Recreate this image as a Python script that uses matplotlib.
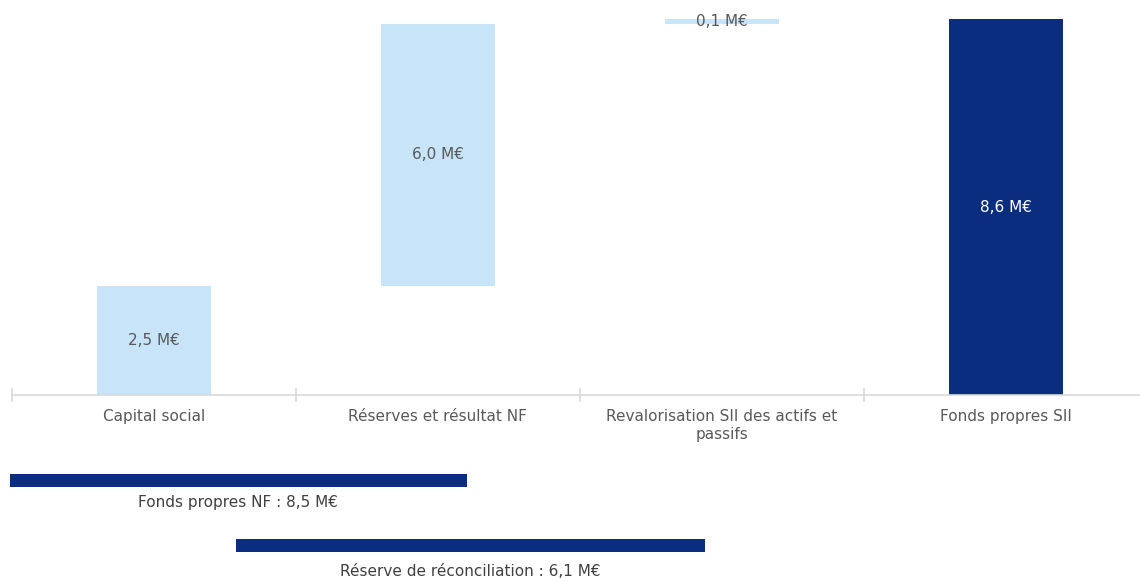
import numpy as np
import matplotlib.pyplot as plt
from matplotlib.ticker import FixedLocator

# waterfall steps (M€)
categories = ['Capital social', 'Réserves et résultat NF',
              'Revalorisation SII des actifs et\npassifs', 'Fonds propres SII']
steps = [2.5, 6.0, 0.1]
total = 8.6
labels = ['2,5 M€', '6,0 M€', '0,1 M€', '8,6 M€']

# summary brackets below the axis
bracket_names = ['Fonds propres NF : 8,5 M€', 'Réserve de réconciliation : 6,1 M€']
bracket_values = [8.5, 6.1]

# layout of the brackets (x span in category units, y in value units)
bracket_x = [(-0.507, 1.102), (0.289, 1.940)]
bracket_y = [-1.96, -3.44]
bracket_text_y = [-2.47, -4.03]

light = '#C7E4F8'
navy = '#0B2D7F'
grey = '#595959'

plt.rcParams['font.family'] = ['DejaVu Sans']
fs = 11

fig = plt.figure(figsize=(11.4, 5.78), dpi=100)
ax = fig.add_axes([0, 0, 1, 1])

x = np.arange(len(categories))
bottoms = np.concatenate([[0], np.cumsum(steps)[:-1]])
heights = list(steps) + [total]
bottoms = list(bottoms) + [0]
colors = [light, light, light, navy]

ax.bar(x, heights, bottom=bottoms, width=0.4, color=colors, zorder=2)

for i in range(len(x)):
    tc = 'white' if colors[i] == navy else grey
    ax.text(x[i], bottoms[i] + heights[i] / 2, labels[i], ha='center', va='center',
            fontsize=fs, color=tc, zorder=3)

# brackets
for (x0, x1), y, ty, name in zip(bracket_x, bracket_y, bracket_text_y, bracket_names):
    ax.barh(y, x1 - x0, left=x0, height=0.30, color=navy, clip_on=False)
    ax.text((x0 + x1) / 2, ty, name, ha='center', va='center', fontsize=fs, color='#404040')

ax.set_xlim(-0.542, 3.472)
ax.set_ylim(-4.19, 9.04)

for s in ['top', 'left', 'right']:
    ax.spines[s].set_visible(False)
ax.spines['bottom'].set_position(('data', 0))
ax.spines['bottom'].set_bounds(-0.5, 3.5)
ax.spines['bottom'].set_color('#D9D9D9')
ax.spines['bottom'].set_linewidth(1.2)

ax.set_yticks([])
ax.set_xticks(x)
ax.set_xticklabels(categories, fontsize=fs, color=grey, linespacing=1.3)
ax.tick_params(axis='x', which='major', length=0, pad=10)
ax.xaxis.set_minor_locator(FixedLocator([-0.5, 0.5, 1.5, 2.5, 3.5]))
ax.tick_params(axis='x', which='minor', direction='inout', length=10, color='#D9D9D9', width=1.2)

fig.savefig('out.png', dpi=100)
